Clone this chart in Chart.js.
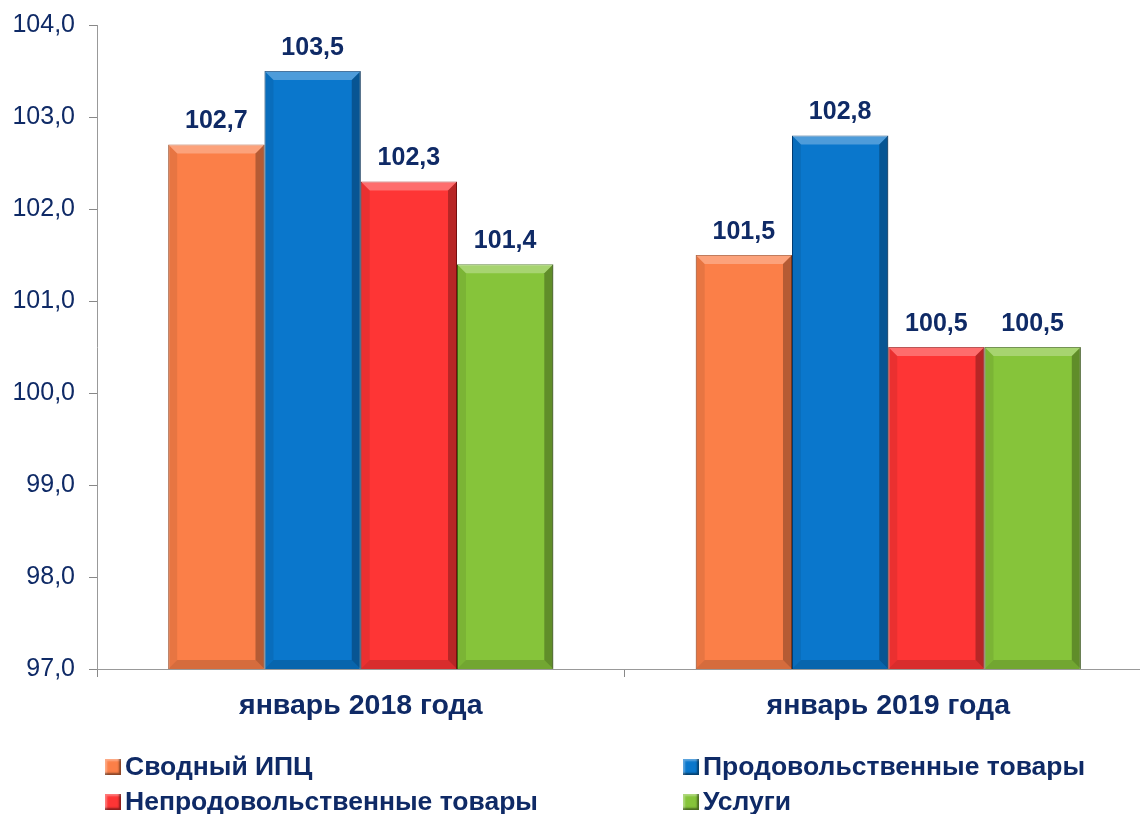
<!DOCTYPE html>
<html>
<head>
  <title>ИПЦ январь</title>
  <script src="https://cdn.jsdelivr.net/npm/chart.js"></script>
  <style>
    body {
      margin: 0;
      padding: 0;
      background: #fff;
      overflow: hidden;
      font-family: "Liberation Sans", Arial, sans-serif;
    }
    .wrap {
      position: relative;
      width: 1140px;
      height: 814px;
      overflow: hidden;
    }
    .legend {
      position: absolute;
      font-weight: bold;
      font-size: 26.5px;
      color: #0f2a66;
      white-space: nowrap;
      line-height: 28px;
    }
    .legend i {
      display: inline-block;
      width: 16px;
      height: 16px;
      margin-right: 4px;
      vertical-align: 0px;
      box-shadow: inset -2px -2px 2px rgba(0,0,0,0.45), inset 2px 2px 2px rgba(255,255,255,0.35);
    }
  </style>
</head>
<body>
  <div class="wrap">
    <canvas id="cpiChart" width="1152" height="814"></canvas>
    <div id="legend"></div>
  </div>
  <script>
    const categories = ['январь 2018 года', 'январь 2019 года'];
    const seriesNames = ['Сводный ИПЦ', 'Продовольственные товары', 'Непродовольственные товары', 'Услуги'];
    const cpiTotal = [102.7, 101.5];
    const cpiFood = [103.5, 102.8];
    const cpiNonFood = [102.3, 100.5];
    const cpiServices = [101.4, 100.5];
    const yTicks = [97, 98, 99, 100, 101, 102, 103, 104];

    const colors = ['#fb7f48', '#0a77cc', '#fe3535', '#86c43a'];
    const borders = ['#a84a1f', '#04417a', '#a01515', '#3f6a12'];
    const navy = '#0f2a66';
    const fmt = v => v.toFixed(1).replace('.', ',');

    // legend laid out in two columns like the original
    const legendPos = [[105, 752], [683, 752], [105, 787], [683, 787]];
    const legendBox = document.getElementById('legend');
    seriesNames.forEach((name, i) => {
      const d = document.createElement('div');
      d.className = 'legend';
      d.style.left = legendPos[i][0] + 'px';
      d.style.top = legendPos[i][1] + 'px';
      d.innerHTML = '<i style="background:' + colors[i] + '"></i>' + name;
      legendBox.appendChild(d);
    });

    // bevel look on top of every bar
    const bevelPlugin = {
      id: 'bevel',
      afterDatasetsDraw(chart) {
        const ctx = chart.ctx;
        const area = chart.chartArea;
        chart.data.datasets.forEach((ds, di) => {
          chart.getDatasetMeta(di).data.forEach(bar => {
            const l = bar.x - bar.width / 2, r = bar.x + bar.width / 2;
            const t = bar.y, b = Math.min(bar.base, area.bottom), e = 9;
            ctx.save();
            ctx.fillStyle = 'rgba(255,255,255,0.28)';
            ctx.beginPath();
            ctx.moveTo(l, t); ctx.lineTo(r, t); ctx.lineTo(r - e, t + e); ctx.lineTo(l + e, t + e);
            ctx.closePath(); ctx.fill();
            ctx.fillStyle = 'rgba(0,0,0,0.28)';
            ctx.beginPath();
            ctx.moveTo(r, t); ctx.lineTo(r, b); ctx.lineTo(r - e, b - e); ctx.lineTo(r - e, t + e);
            ctx.closePath(); ctx.fill();
            ctx.fillStyle = 'rgba(0,0,0,0.15)';
            ctx.beginPath();
            ctx.moveTo(l, b); ctx.lineTo(r, b); ctx.lineTo(r - e, b - e); ctx.lineTo(l + e, b - e);
            ctx.closePath(); ctx.fill();
            ctx.fillStyle = 'rgba(0,0,0,0.08)';
            ctx.beginPath();
            ctx.moveTo(l, t); ctx.lineTo(l + e, t + e); ctx.lineTo(l + e, b - e); ctx.lineTo(l, b);
            ctx.closePath(); ctx.fill();
            ctx.restore();
          });
        });
      }
    };

    const valueLabels = {
      id: 'valueLabels',
      afterDatasetsDraw(chart) {
        const ctx = chart.ctx;
        ctx.save();
        ctx.font = 'bold 25px "Liberation Sans", Arial, sans-serif';
        ctx.fillStyle = navy;
        ctx.textAlign = 'center';
        ctx.textBaseline = 'middle';
        chart.data.datasets.forEach((ds, di) => {
          chart.getDatasetMeta(di).data.forEach((bar, i) => {
            ctx.fillText(fmt(ds.data[i]), bar.x, bar.y - 23);
          });
        });
        ctx.restore();
      }
    };

    const seriesData = [cpiTotal, cpiFood, cpiNonFood, cpiServices];

    new Chart(document.getElementById('cpiChart').getContext('2d'), {
      type: 'bar',
      data: {
        labels: categories,
        datasets: seriesData.map((data, i) => ({
          label: seriesNames[i],
          data: data,
          backgroundColor: colors[i],
          borderColor: borders[i],
          borderWidth: 1
        }))
      },
      options: {
        responsive: false,
        animation: false,
        layout: { padding: { top: 25, right: 0, left: 0, bottom: 0 } },
        plugins: {
          legend: { display: false },
          tooltip: { enabled: false }
        },
        datasets: {
          bar: { categoryPercentage: 0.73, barPercentage: 1.0 }
        },
        scales: {
          x: {
            grid: { display: true, drawOnChartArea: false, offset: true, tickLength: 8, color: '#888' },
            border: { color: '#999', width: 1 },
            ticks: {
              color: navy,
              padding: 12,
              font: { family: '"Liberation Sans", Arial, sans-serif', size: 28.5, weight: 'bold' }
            },
            afterFit(scale) { scale.height = 145; }
          },
          y: {
            min: 97,
            max: 104,
            afterBuildTicks(scale) { scale.ticks = yTicks.map(v => ({ value: v })); },
            grid: { display: true, drawOnChartArea: false, tickLength: 8, color: '#888' },
            border: { color: '#999', width: 1 },
            ticks: {
              color: navy,
              padding: 14,
              font: { family: '"Liberation Sans", Arial, sans-serif', size: 25, lineHeight: 0.8 },
              callback: v => fmt(v)
            },
            afterFit(scale) { scale.width = 97; }
          }
        }
      },
      plugins: [bevelPlugin, valueLabels]
    });
  </script>
</body>
</html>
